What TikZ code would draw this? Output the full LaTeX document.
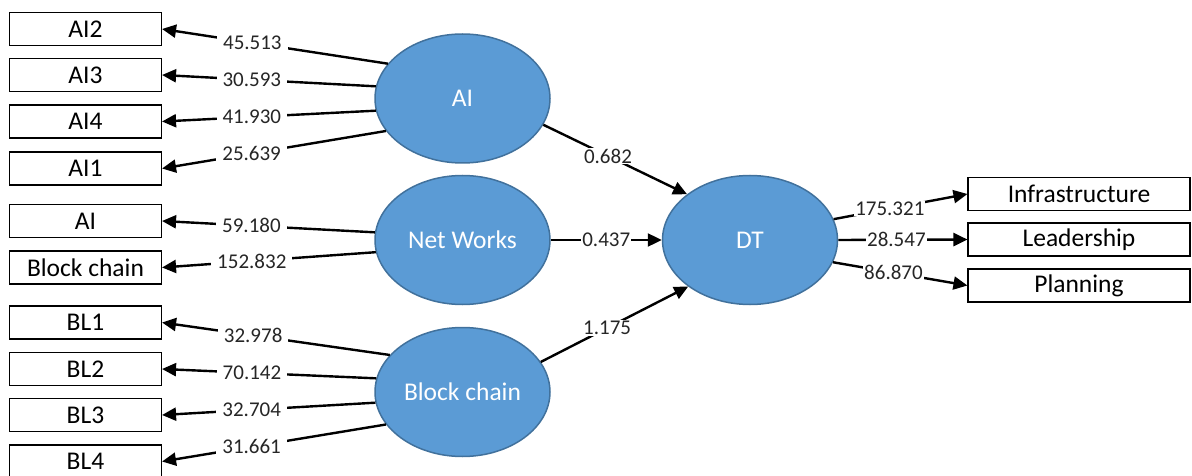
\documentclass[tikz,border=0pt]{standalone}
\usepackage{fontspec}
\setmainfont{Carlito}
\usetikzlibrary{shapes.geometric,arrows.meta}
\definecolor{latfill}{HTML}{5B9BD5}
\definecolor{latedge}{HTML}{41719C}
\tikzset{
  ind/.style={draw=black, line width=1.1pt, fill=white, minimum width=152pt, minimum height=33pt,
              inner sep=0pt, font=\fontsize{25.5}{28}\selectfont},
  outind/.style={ind, minimum width=222pt},
  latent/.style={ellipse, draw=latedge, line width=1.5pt, fill=latfill, text=white,
                 minimum width=175pt, minimum height=129pt, inner sep=0pt,
                 font=\fontsize{25.5}{28}\selectfont},
  link/.style={line width=2.4pt, -{Triangle[length=14pt,width=13pt]}},
  wt/.style={fill=white, inner xsep=6pt, inner ysep=1pt, font=\fontsize{21}{24}\selectfont, text=black!85}
}
\begin{document}
\begin{tikzpicture}[x=1pt,y=-1pt]
\useasboundingbox (0,0) rectangle (1192,476);

% indicator boxes on the left
\node[ind] (ai2) at (85.5,29) {AI2};
\node[ind] (ai3) at (85.5,75) {AI3};
\node[ind] (ai4) at (85.5,121.5) {AI4};
\node[ind] (ai1) at (85.5,168.5) {AI1};
\node[ind] (nwa) at (85.5,221) {AI};
\node[ind] (nwb) at (85.5,267.5) {Block chain};
\node[ind] (bl1) at (85.5,322.5) {BL1};
\node[ind] (bl2) at (85.5,369) {BL2};
\node[ind] (bl3) at (85.5,415) {BL3};
\node[ind] (bl4) at (85.5,461.5) {BL4};

% indicator boxes on the right
\node[outind] (infra) at (1079,194) {Infrastructure};
\node[outind] (lead) at (1079,239.5) {Leadership};
\node[outind] (plan) at (1079,285.5) {Planning};

% latent constructs
\node[latent] (AI) at (462.5,98.5) {AI};
\node[latent] (NW) at (462.5,240) {Net Works};
\node[latent] (BC) at (462.5,392) {Block chain};
\node[latent] (DT) at (750,240) {DT};

% loadings of AI
\draw[link] (AI.155) -- node[wt,pos=0.6] {45.513} (ai2.east);
\draw[link] (AI.172) -- node[wt,pos=0.58] {30.593} (ai3.east);
\draw[link] (AI.188) -- node[wt,pos=0.58] {41.930} (ai4.east);
\draw[link] (AI.203) -- node[wt,pos=0.6] {25.639} (ai1.east);

% loadings of Net Works
\draw[link] (NW.175) -- node[wt,pos=0.58] {59.180} (nwa.east);
\draw[link] (NW.188) -- node[wt,pos=0.58] {152.832} (nwb.east);

% loadings of Block chain
\draw[link] (BC.153) -- node[wt,pos=0.6] {32.978} (bl1.east);
\draw[link] (BC.171) -- node[wt,pos=0.58] {70.142} (bl2.east);
\draw[link] (BC.187) -- node[wt,pos=0.58] {32.704} (bl3.east);
\draw[link] (BC.203) -- node[wt,pos=0.6] {31.661} (bl4.east);

% structural paths
\draw[link] (AI.-18) -- node[wt,inner xsep=1pt,pos=0.45] {0.682} (DT.144);
\draw[link] (NW.east) -- node[wt,inner xsep=1pt,pos=0.5] {0.437} (DT.west);
\draw[link] (BC.21) -- node[wt,inner xsep=1pt,pos=0.45] {1.175} (DT.217);

% loadings of DT
\draw[link] (DT.14) -- node[wt,inner xsep=1pt,pos=0.42] {175.321} (infra.west);
\draw[link] (DT.east) -- node[wt,inner xsep=1pt,pos=0.45] {28.547} (lead.west);
\draw[link] (DT.-15) -- node[wt,inner xsep=1pt,pos=0.45] {86.870} (plan.west);
\end{tikzpicture}
\end{document}
